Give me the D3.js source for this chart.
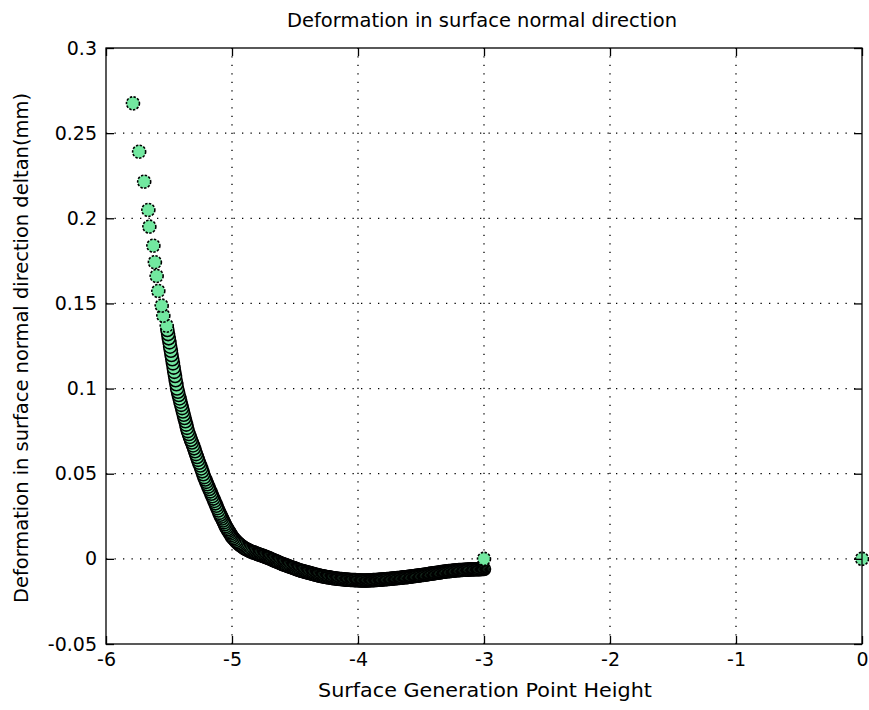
<!DOCTYPE html>
<html><head><meta charset="utf-8">
<script src="https://cdn.jsdelivr.net/npm/d3@7/dist/d3.min.js"></script>
<style>
html,body{margin:0;padding:0;background:#fff;}
text{font-family:"DejaVu Sans",sans-serif;fill:#000;}
</style></head>
<body>
<svg id="chart" width="869" height="710"></svg>
<script>
// ---- data ----
const xTicks = [-6, -5, -4, -3, -2, -1, 0];
const yTicks = [-0.05, 0, 0.05, 0.1, 0.15, 0.2, 0.25, 0.3];
const xTickLabels = ["-6", "-5", "-4", "-3", "-2", "-1", "0"];
const yTickLabels = ["-0.05", "0", "0.05", "0.1", "0.15", "0.2", "0.25", "0.3"];

// steep part of the curve (surface generation point height, deformation)
const heightSteep = [-5.786, -5.737, -5.697, -5.664, -5.656, -5.624, -5.612, -5.598, -5.585, -5.558, -5.545, -5.518,
  -5.513, -5.507, -5.502, -5.496, -5.491, -5.485, -5.480, -5.474, -5.469, -5.463, -5.458, -5.452, -5.447, -5.441, -5.436,
  -5.429, -5.423, -5.416, -5.410, -5.403, -5.396, -5.390, -5.383, -5.377, -5.370, -5.363, -5.357, -5.350,
  -5.342, -5.334, -5.326, -5.318, -5.309, -5.301, -5.293, -5.285, -5.277, -5.269, -5.261, -5.252, -5.244, -5.236, -5.228, -5.220,
  -5.212, -5.204, -5.196, -5.188, -5.180, -5.172, -5.164, -5.156, -5.148, -5.140, -5.132, -5.124, -5.116, -5.108, -5.100,
  -5.093, -5.086, -5.079, -5.071, -5.064, -5.057, -5.050, -5.043, -5.036, -5.029, -5.021, -5.014, -5.007, -5.000,
  -4.99, -4.98, -4.97, -4.96, -4.95, -4.94, -4.93, -4.92, -4.91, -4.90, -4.89, -4.88, -4.87, -4.86, -4.85];
const deltaSteep = [0.2675, 0.2391, 0.2215, 0.2049, 0.1951, 0.1839, 0.1742, 0.1661, 0.1573, 0.1487, 0.1428, 0.1369,
  0.1344, 0.1320, 0.1295, 0.1271, 0.1246, 0.1222, 0.1197, 0.1172, 0.1148, 0.1123, 0.1098, 0.1074, 0.1049, 0.1025, 0.1000,
  0.0981, 0.0962, 0.0942, 0.0923, 0.0904, 0.0885, 0.0865, 0.0846, 0.0827, 0.0808, 0.0788, 0.0769, 0.0750,
  0.0733, 0.0716, 0.0699, 0.0683, 0.0666, 0.0649, 0.0632, 0.0615, 0.0598, 0.0581, 0.0564, 0.0548, 0.0531, 0.0514, 0.0497, 0.0480,
  0.0466, 0.0452, 0.0438, 0.0424, 0.0410, 0.0396, 0.0382, 0.0368, 0.0354, 0.0340, 0.0326, 0.0312, 0.0298, 0.0284, 0.0270,
  0.0259, 0.0248, 0.0237, 0.0225, 0.0214, 0.0203, 0.0192, 0.0183, 0.0174, 0.0165, 0.0157, 0.0148, 0.0139, 0.0130,
  0.0121, 0.0113, 0.0105, 0.0097, 0.0090, 0.0084, 0.0078, 0.0073, 0.0067, 0.0062, 0.0058, 0.0054, 0.0050, 0.0047, 0.0043];

// flat part of the curve
const heightFlat = [-4.84, -4.83, -4.82, -4.81, -4.80, -4.79, -4.78, -4.77, -4.76, -4.75, -4.74, -4.73, -4.72,
  -4.71, -4.70, -4.69, -4.68, -4.67, -4.66, -4.65, -4.64, -4.63, -4.62, -4.61, -4.60,
  -4.59, -4.58, -4.57, -4.56, -4.55, -4.54, -4.53, -4.52, -4.51, -4.50, -4.49, -4.48, -4.47, -4.46,
  -4.45, -4.44, -4.43, -4.42, -4.41, -4.40, -4.39, -4.38, -4.37, -4.36, -4.35, -4.34, -4.33, -4.32, -4.31, -4.30,
  -4.29, -4.28, -4.27, -4.26, -4.25, -4.24, -4.23, -4.22, -4.21, -4.20,
  -4.19, -4.18, -4.17, -4.16, -4.15, -4.14, -4.13, -4.12, -4.11, -4.10,
  -4.09, -4.08, -4.07, -4.06, -4.05, -4.04, -4.03, -4.02, -4.01, -4.00,
  -3.99, -3.98, -3.97, -3.96, -3.95, -3.94, -3.93, -3.92, -3.91, -3.90,
  -3.89, -3.88, -3.87, -3.86, -3.85, -3.84, -3.83, -3.82, -3.81, -3.80,
  -3.79, -3.78, -3.77, -3.76, -3.75, -3.74, -3.73, -3.72, -3.71, -3.70,
  -3.69, -3.68, -3.67, -3.66, -3.65, -3.64, -3.63, -3.62, -3.61, -3.60,
  -3.59, -3.58, -3.57, -3.56, -3.55, -3.54, -3.53, -3.52, -3.51, -3.50,
  -3.49, -3.48, -3.47, -3.46, -3.45, -3.44, -3.43, -3.42, -3.41, -3.40,
  -3.39, -3.38, -3.37, -3.36, -3.35, -3.34, -3.33, -3.32, -3.31, -3.30,
  -3.29, -3.28, -3.27, -3.26, -3.25, -3.24, -3.23, -3.22, -3.21, -3.20,
  -3.19, -3.18, -3.17, -3.16, -3.15, -3.14, -3.13, -3.12, -3.11, -3.10,
  -3.09, -3.08, -3.07, -3.06, -3.05, -3.04, -3.03, -3.02, -3.01, -3.00];
const deltaFlat = [0.0040, 0.0038, 0.0035, 0.0032, 0.0030, 0.0027, 0.0024, 0.0021, 0.0019, 0.0016, 0.0013, 0.0011, 0.0008,
  0.0005, 0.0002, -0.0002, -0.0005, -0.0008, -0.0011, -0.0014, -0.0017, -0.0021, -0.0024, -0.0027, -0.0030,
  -0.0033, -0.0035, -0.0038, -0.0041, -0.0044, -0.0046, -0.0049, -0.0052, -0.0054, -0.0057, -0.0060, -0.0063, -0.0065, -0.0068,
  -0.0070, -0.0072, -0.0074, -0.0076, -0.0078, -0.0080, -0.0082, -0.0084, -0.0086, -0.0088, -0.0090, -0.0092, -0.0094, -0.0096, -0.0098, -0.0100,
  -0.0101, -0.0103, -0.0104, -0.0105, -0.0107, -0.0108, -0.0109, -0.0110, -0.0112, -0.0113,
  -0.0114, -0.0115, -0.0116, -0.0117, -0.0118, -0.0118, -0.0119, -0.0120, -0.0121, -0.0122,
  -0.0122, -0.0123, -0.0123, -0.0124, -0.0124, -0.0124, -0.0125, -0.0125, -0.0126, -0.0126,
  -0.0126, -0.0127, -0.0127, -0.0127, -0.0127, -0.0127, -0.0127, -0.0127, -0.0126, -0.0126,
  -0.0126, -0.0125, -0.0125, -0.0124, -0.0124, -0.0123, -0.0123, -0.0122, -0.0122, -0.0121,
  -0.0120, -0.0120, -0.0119, -0.0118, -0.0118, -0.0117, -0.0116, -0.0115, -0.0115, -0.0114,
  -0.0113, -0.0112, -0.0112, -0.0111, -0.0110, -0.0109, -0.0108, -0.0108, -0.0107, -0.0106,
  -0.0105, -0.0104, -0.0103, -0.0102, -0.0101, -0.0100, -0.0099, -0.0098, -0.0097, -0.0096,
  -0.0095, -0.0094, -0.0093, -0.0092, -0.0091, -0.0089, -0.0088, -0.0087, -0.0086, -0.0085,
  -0.0084, -0.0083, -0.0082, -0.0081, -0.0080, -0.0078, -0.0077, -0.0076, -0.0075, -0.0074,
  -0.0073, -0.0072, -0.0072, -0.0071, -0.0070, -0.0069, -0.0068, -0.0068, -0.0067, -0.0066,
  -0.0066, -0.0065, -0.0065, -0.0064, -0.0064, -0.0064, -0.0063, -0.0063, -0.0062, -0.0062,
  -0.0062, -0.0062, -0.0061, -0.0061, -0.0061, -0.0061, -0.0061, -0.0060, -0.0060, -0.0060];

// two isolated points at zero deformation
const heightExtra = [-3.0, 0.0];
const deltaExtra = [0.0, 0.0];

// ---- chart ----
const svg = d3.select("#chart");
const W = 869, H = 710;
const margin = {left: 106, right: 7, top: 48, bottom: 66};
const x = d3.scaleLinear().domain([-6, 0]).range([margin.left, W - margin.right]);
const y = d3.scaleLinear().domain([-0.05, 0.3]).range([H - margin.bottom, margin.top]);
const x0 = x.range()[0], x1 = x.range()[1], y0 = y.range()[0], y1 = y.range()[1];

svg.append("rect").attr("width", W).attr("height", H).attr("fill", "#fff");

// grid (dotted)
const grid = svg.append("g").attr("stroke", "#000").attr("stroke-width", 1.3)
  .attr("stroke-dasharray", "1.3,7.2").attr("fill", "none");
grid.selectAll("line.gx").data(xTicks.slice(1, -1)).join("line")
  .attr("x1", d => x(d)).attr("x2", d => x(d)).attr("y1", y0).attr("y2", y1);
grid.selectAll("line.gy").data(yTicks.slice(1, -1)).join("line")
  .attr("x1", x0).attr("x2", x1).attr("y1", d => y(d)).attr("y2", d => y(d));

// data points
const MARK = "#72e8a0";
const R = 6.5, SW = 1.6;
const steep = heightSteep.map((h, i) => [h, deltaSteep[i]]);
const flat = heightFlat.map((h, i) => [h, deltaFlat[i]]);
const curve = steep.concat(flat).reverse();  // drawn from the right end back to the top-left
const gPts = svg.append("g");
gPts.selectAll("circle.c").data(curve).join("circle")
  .attr("cx", d => x(d[0])).attr("cy", d => y(d[1])).attr("r", R)
  .attr("fill", MARK).attr("stroke", "#000").attr("stroke-width", SW)
  .attr("stroke-dasharray", (d, i) => i >= curve.length - 12 ? "2.4,1.4" : null);
gPts.selectAll("circle.e").data(heightExtra.map((h, i) => [h, deltaExtra[i]])).join("circle")
  .attr("cx", d => x(d[0])).attr("cy", d => y(d[1])).attr("r", R)
  .attr("fill", MARK).attr("stroke", "#000").attr("stroke-width", SW)
  .attr("stroke-dasharray", "2.4,1.4");

// axes (ticks inside, mirrored on top/right)
const fs = 19;
const FONT = '"DejaVu Sans", sans-serif';
const axB = svg.append("g").attr("transform", `translate(0,${y0})`)
  .call(d3.axisBottom(x).tickValues(xTicks).tickFormat((d, i) => xTickLabels[i]).tickSize(-8).tickPadding(9));
const axL = svg.append("g").attr("transform", `translate(${x0},0)`)
  .call(d3.axisLeft(y).tickValues(yTicks).tickFormat((d, i) => yTickLabels[i]).tickSize(-8).tickPadding(9));
const axT = svg.append("g").attr("transform", `translate(0,${y1})`)
  .call(d3.axisTop(x).tickValues(xTicks).tickFormat("").tickSize(-8));
const axR = svg.append("g").attr("transform", `translate(${x1},0)`)
  .call(d3.axisRight(y).tickValues(yTicks).tickFormat("").tickSize(-8));
[axB, axL, axT, axR].forEach(a => {
  a.select(".domain").remove();
  a.selectAll("line").attr("stroke", "#000").attr("stroke-width", 1.3);
  a.selectAll("text").attr("font-size", fs).attr("font-family", FONT).attr("fill", "#000");
});
svg.append("rect").attr("x", x0).attr("y", y1).attr("width", x1 - x0).attr("height", y0 - y1)
  .attr("fill", "none").attr("stroke", "#000").attr("stroke-width", 1.3);

// titles
svg.append("text").attr("x", (x0 + x1) / 2 - 2).attr("y", 27).attr("text-anchor", "middle")
  .attr("font-size", fs).attr("textLength", 390).attr("lengthAdjust", "spacingAndGlyphs")
  .text("Deformation in surface normal direction");
svg.append("text").attr("x", (x0 + x1) / 2 + 1).attr("y", 697).attr("text-anchor", "middle")
  .attr("font-size", fs).attr("textLength", 334).attr("lengthAdjust", "spacingAndGlyphs")
  .text("Surface Generation Point Height");
svg.append("text").attr("transform", "translate(28,348) rotate(-90)").attr("text-anchor", "middle")
  .attr("font-size", fs).attr("textLength", 510).attr("lengthAdjust", "spacingAndGlyphs")
  .text("Deformation in surface normal direction deltan(mm)");
</script>
</body></html>
